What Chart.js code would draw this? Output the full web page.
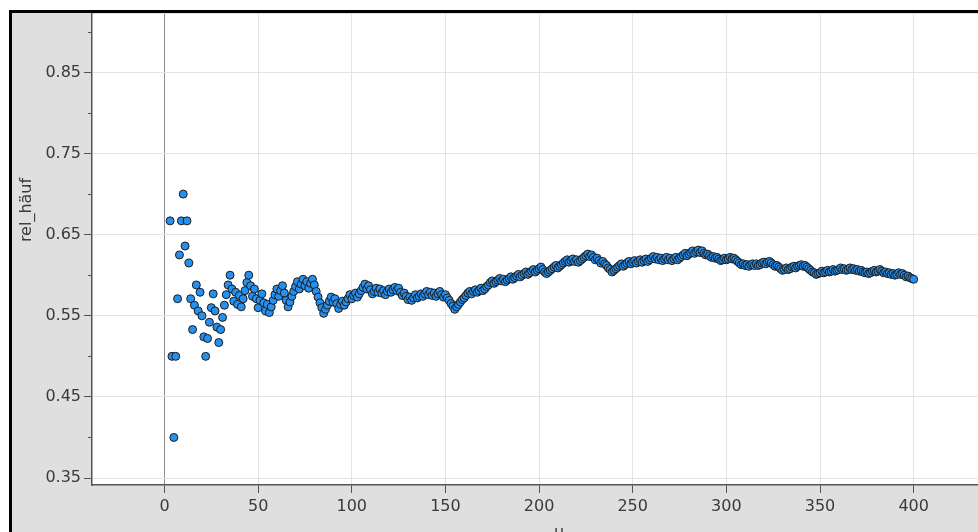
<!DOCTYPE html>
<html>
<head>
<meta charset="utf-8">
<script src="https://cdn.jsdelivr.net/npm/chart.js@4.4.1/dist/chart.umd.min.js"></script>
<style>
  html, body { margin: 0; padding: 0; background: #fff; overflow: hidden; width: 978px; height: 532px; }
  #frame { position: absolute; left: 9px; top: 10px; width: 1100px; height: 600px; overflow: hidden;
           border-left: 3px solid #000; border-top: 3px solid #000; background: #dfdfdf; }
  #c { position: absolute; left: 0; top: -4px; }
</style>
</head>
<body>
<div id="frame"><canvas id="c" width="1000" height="544"></canvas></div>
<script>
// relative frequency after n trials, n = 1..400
var relHaeuf = [
  1, 1, 0.667, 0.5, 0.4, 0.5, 0.571, 0.625, 0.667, 0.7,
  0.636, 0.667, 0.615, 0.571, 0.533, 0.563, 0.588, 0.556, 0.579, 0.55,
  0.524, 0.5, 0.522, 0.542, 0.56, 0.577, 0.556, 0.536, 0.517, 0.533,
  0.548, 0.563, 0.576, 0.588, 0.6, 0.583, 0.568, 0.579, 0.564, 0.575,
  0.561, 0.571, 0.581, 0.591, 0.6, 0.587, 0.574, 0.583, 0.571, 0.56,
  0.569, 0.577, 0.566, 0.556, 0.564, 0.554, 0.561, 0.569, 0.576, 0.583,
  0.574, 0.581, 0.587, 0.578, 0.569, 0.561, 0.567, 0.574, 0.58, 0.586,
  0.592, 0.583, 0.589, 0.595, 0.587, 0.592, 0.584, 0.59, 0.595, 0.588,
  0.58, 0.573, 0.566, 0.56, 0.553, 0.558, 0.563, 0.568, 0.573, 0.567,
  0.571, 0.565, 0.559, 0.564, 0.568, 0.563, 0.567, 0.571, 0.576, 0.571,
  0.575, 0.578, 0.573, 0.577, 0.581, 0.585, 0.589, 0.583, 0.587, 0.582,
  0.577, 0.58, 0.584, 0.579, 0.583, 0.578, 0.581, 0.576, 0.58, 0.583,
  0.579, 0.582, 0.585, 0.581, 0.584, 0.579, 0.575, 0.578, 0.574, 0.57,
  0.573, 0.569, 0.572, 0.576, 0.572, 0.574, 0.577, 0.574, 0.577, 0.58,
  0.576, 0.579, 0.575, 0.578, 0.574, 0.577, 0.58, 0.576, 0.573, 0.576,
  0.572, 0.569, 0.565, 0.562, 0.558, 0.561, 0.564, 0.567, 0.57, 0.572,
  0.575, 0.578, 0.58, 0.577, 0.58, 0.582, 0.579, 0.581, 0.584, 0.581,
  0.583, 0.586, 0.588, 0.591, 0.593, 0.59, 0.592, 0.594, 0.596, 0.593,
  0.595, 0.592, 0.594, 0.596, 0.598, 0.595, 0.597, 0.599, 0.601, 0.598,
  0.6, 0.602, 0.604, 0.601, 0.603, 0.605, 0.607, 0.604, 0.606, 0.608,
  0.61, 0.607, 0.604, 0.602, 0.604, 0.606, 0.608, 0.61, 0.612, 0.609,
  0.611, 0.613, 0.615, 0.617, 0.619, 0.616, 0.618, 0.62, 0.617, 0.619,
  0.616, 0.618, 0.62, 0.622, 0.624, 0.626, 0.623, 0.625, 0.622, 0.619,
  0.621, 0.618, 0.615, 0.617, 0.614, 0.612, 0.609, 0.607, 0.604, 0.606,
  0.608, 0.61, 0.612, 0.614, 0.611, 0.613, 0.615, 0.617, 0.614, 0.616,
  0.618, 0.615, 0.617, 0.619, 0.616, 0.618, 0.62, 0.617, 0.619, 0.621,
  0.623, 0.62, 0.622, 0.619, 0.621, 0.618, 0.62, 0.622, 0.619, 0.621,
  0.618, 0.62, 0.622, 0.619, 0.621, 0.623, 0.625, 0.627, 0.624, 0.626,
  0.628, 0.63, 0.627, 0.629, 0.631, 0.628, 0.63, 0.627, 0.625, 0.626,
  0.624, 0.622, 0.623, 0.621, 0.622, 0.62, 0.618, 0.619, 0.621, 0.619,
  0.62, 0.622, 0.62, 0.621, 0.619, 0.617, 0.615, 0.613, 0.614, 0.612,
  0.613, 0.611, 0.613, 0.614, 0.612, 0.614, 0.612, 0.613, 0.615, 0.616,
  0.614, 0.616, 0.617, 0.615, 0.613, 0.611, 0.612, 0.61, 0.608, 0.606,
  0.607, 0.609, 0.607, 0.608, 0.61, 0.611, 0.609, 0.611, 0.612, 0.613,
  0.611, 0.612, 0.61, 0.608, 0.606, 0.604, 0.603, 0.601, 0.602, 0.603,
  0.605, 0.603, 0.604, 0.606, 0.604, 0.605, 0.607, 0.605, 0.606, 0.607,
  0.609, 0.607, 0.608, 0.606, 0.607, 0.609, 0.607, 0.608, 0.606, 0.607,
  0.605, 0.606, 0.604, 0.603, 0.604, 0.602, 0.603, 0.605, 0.606, 0.604,
  0.605, 0.607, 0.605, 0.603, 0.604, 0.602, 0.603, 0.601, 0.602, 0.6,
  0.601, 0.603, 0.601, 0.602, 0.6, 0.598, 0.599, 0.597, 0.596, 0.595
];
var xTicks = [0, 50, 100, 150, 200, 250, 300, 350, 400];
var yTicks = [0.35, 0.45, 0.55, 0.65, 0.75, 0.85];
var yMinorTicks = [0.40, 0.50, 0.60, 0.70, 0.80, 0.90];
var xTitle = 'u';
var yTitle = 'rel_häuf';

var points = relHaeuf.map(function(v, i) { return { x: i + 1, y: v }; });

var tickFont = { family: 'DejaVu Sans', size: 16 };

var extras = {
  id: 'extras',
  beforeDraw: function(chart) {
    var a = chart.chartArea, ctx = chart.ctx;
    ctx.save();
    ctx.fillStyle = '#fff';
    ctx.fillRect(a.left, a.top, a.right - a.left, a.bottom - a.top);
    ctx.restore();
  },
  afterDraw: function(chart) {
    var ctx = chart.ctx, a = chart.chartArea, ys = chart.scales.y;
    ctx.save();
    ctx.strokeStyle = '#555';
    ctx.lineWidth = 1;
    yMinorTicks.forEach(function(v) {
      var py = Math.round(ys.getPixelForValue(v)) + 0.5;
      ctx.beginPath();
      ctx.moveTo(a.left - 4, py);
      ctx.lineTo(a.left, py);
      ctx.stroke();
    });
    ctx.fillStyle = '#3a3a3a';
    ctx.font = '16px "DejaVu Sans"';
    ctx.textAlign = 'center';
    ctx.textBaseline = 'middle';
    ctx.save();
    ctx.translate(15, 201);
    ctx.rotate(-Math.PI / 2);
    ctx.fillText(yTitle, 0, 0);
    ctx.restore();
    ctx.textBaseline = 'alphabetic';
    ctx.fillText(xTitle, 547, 528);
    ctx.restore();
  }
};

new Chart(document.getElementById('c'), {
  type: 'scatter',
  data: {
    datasets: [{
      data: points,
      backgroundColor: '#2590f0',
      borderColor: '#1c1c1c',
      borderWidth: 1,
      pointRadius: 4,
      pointHoverRadius: 4
    }]
  },
  options: {
    responsive: false,
    animation: false,
    devicePixelRatio: 1,
    layout: { padding: { left: 0, top: 0, right: 21, bottom: 0 } },
    plugins: { legend: { display: false }, tooltip: { enabled: false } },
    scales: {
      x: {
        type: 'linear',
        min: -38.7,
        max: 441.3,
        afterBuildTicks: function(s) { s.ticks = xTicks.map(function(v) { return { value: v }; }); },
        afterFit: function(s) { s.height = 68; s.paddingLeft = 0; s.paddingRight = 0; },
        grid: {
          color: function(c) { return c.tick && c.tick.value === 0 ? '#8c8c8c' : '#e4e4e4'; },
          lineWidth: 1,
          tickLength: 8,
          tickColor: '#555'
        },
        border: { color: '#555', width: 1.5 },
        ticks: { font: tickFont, color: '#3a3a3a', padding: 4, maxRotation: 0, autoSkip: false,
                 callback: function(v) { return String(v); } }
      },
      y: {
        min: 0.3414,
        max: 0.922,
        afterBuildTicks: function(s) { s.ticks = yTicks.map(function(v) { return { value: v }; }); },
        afterFit: function(s) { s.width = 80; s.paddingTop = 0; s.paddingBottom = 0; },
        grid: { color: '#e4e4e4', lineWidth: 1, tickLength: 8, tickColor: '#555' },
        border: { color: '#555', width: 1.5 },
        ticks: { font: tickFont, color: '#3a3a3a', padding: 3,
                 callback: function(v) { return v.toFixed(2); } }
      }
    }
  },
  plugins: [extras]
});
</script>
</body>
</html>
